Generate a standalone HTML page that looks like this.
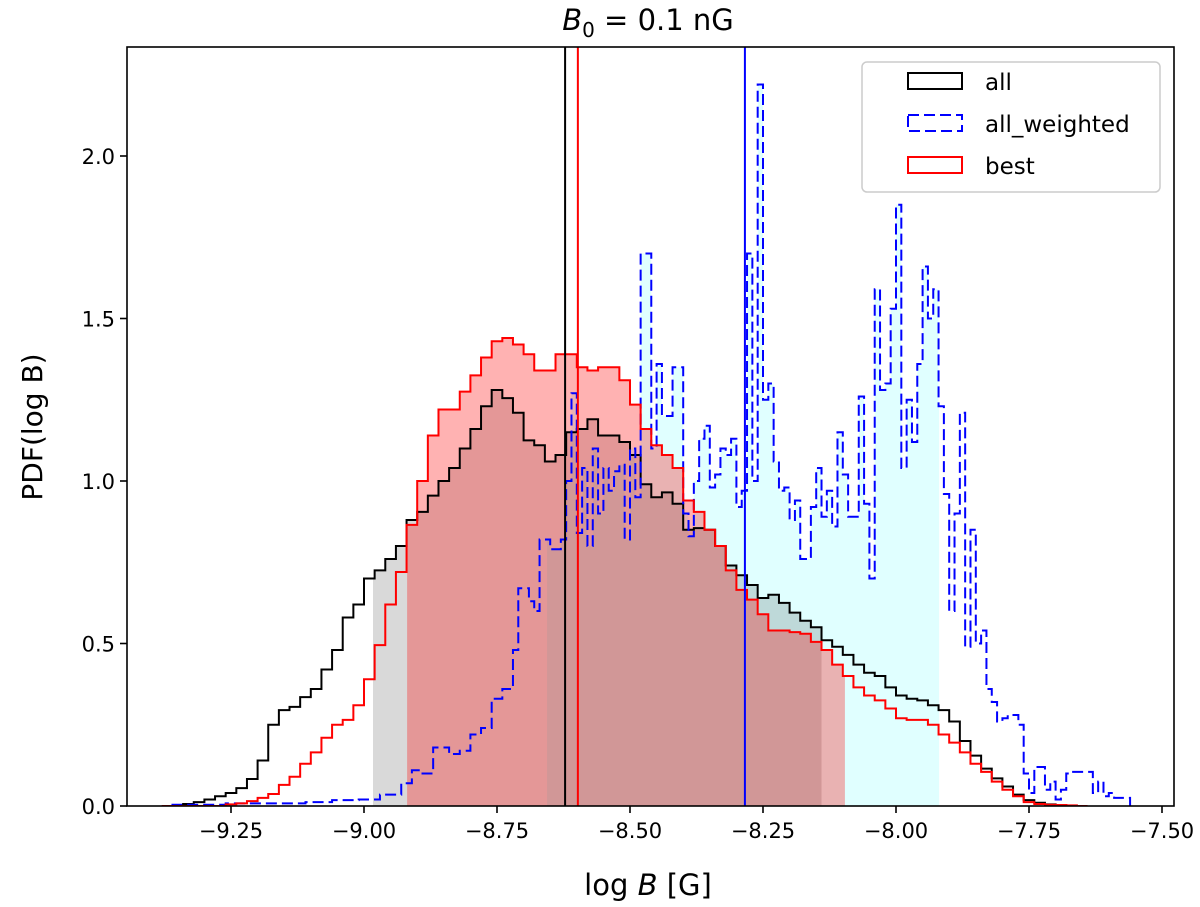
<!DOCTYPE html>
<html><head><meta charset="utf-8"><style>
body{margin:0;background:#fff;}
svg{display:block;font-family:"DejaVu Sans","Liberation Sans",sans-serif;}
</style></head><body>
<svg id="chart" width="1200" height="907" viewBox="0 0 1200 907">
<defs>
<clipPath id="plotclip"><rect x="127" y="47" width="1047" height="759"/></clipPath>
</defs>
<g id="fills" clip-path="url(#plotclip)"></g>
<g id="lines" clip-path="url(#plotclip)"></g>
<g id="axes"></g>
</svg>
<script>
const blackStart = -9.38, blackWidth = 0.02;
const allValues = [0,0.003,0.006,0.012,0.02,0.03,0.04,0.055,0.083,0.14,0.25,0.295,0.305,0.335,0.36,0.42,0.48,0.58,0.62,0.70,0.725,0.76,0.80,0.88,0.905,0.955,1.0,1.04,1.10,1.16,1.23,1.28,1.255,1.21,1.125,1.11,1.06,1.08,1.15,1.16,1.19,1.14,1.14,1.12,1.08,0.99,0.95,0.965,0.93,0.85,0.855,0.85,0.80,0.74,0.71,0.68,0.64,0.65,0.625,0.595,0.57,0.55,0.51,0.49,0.465,0.435,0.41,0.40,0.365,0.34,0.33,0.325,0.31,0.295,0.26,0.20,0.155,0.115,0.085,0.06,0.035,0.018,0.01,0.005,0.003,0,0];
const bestValues = [0,0,0,0,0,0,0.005,0.008,0.015,0.025,0.037,0.065,0.09,0.13,0.165,0.21,0.25,0.265,0.31,0.39,0.495,0.62,0.72,0.865,1.0,1.14,1.22,1.22,1.275,1.325,1.38,1.43,1.44,1.42,1.39,1.34,1.34,1.39,1.39,1.35,1.34,1.35,1.35,1.31,1.235,1.16,1.11,1.08,1.04,0.94,0.905,0.85,0.80,0.725,0.665,0.635,0.59,0.54,0.54,0.535,0.53,0.505,0.48,0.435,0.40,0.365,0.34,0.325,0.30,0.27,0.265,0.265,0.25,0.22,0.195,0.165,0.13,0.105,0.075,0.05,0.03,0.012,0.006,0.004,0.003,0.002,0];
const weightedStart = -9.36, weightedWidth = 0.01;
const weightedValues = [0.004,0.004,0.004,0.004,0.004,0.004,0.004,0.004,0.004,0.004,
0.008,0.008,0.008,0.008,0.008,0.008,0.008,0.008,0.008,0.008,0.008,0.008,0.008,0.008,0.008,
0.012,0.012,0.012,0.012,0.012,0.018,0.018,0.018,0.018,0.018,0.02,0.02,0.02,0.02,
0.035,0.035,0.035,0.035,0.07,0.07,0.11,0.11,0.10,0.10,0.18,0.18,0.18,0.16,0.16,0.17,0.17,0.22,0.22,0.24,0.24,
0.33,0.33,0.36,0.36,0.48,0.67,0.67,0.63,0.60,0.82,0.82,0.79,0.79,0.82,1.0,1.27,0.84,1.04,0.80,1.1,
0.9,1.04,0.97,1.03,1.05,0.82,1.1,0.95,1.70,1.70,1.1,1.36,1.2,1.2,1.35,1.35,0.9,0.83,1.0,1.13,
1.17,0.98,1.02,1.1,1.08,1.13,0.92,0.97,1.7,1.0,2.22,1.25,1.3,1.06,0.97,0.98,0.88,0.94,0.76,0.76,
0.92,1.04,0.89,0.97,0.86,1.15,1.02,0.89,0.89,1.26,0.93,0.70,1.59,1.28,1.3,1.53,1.85,1.04,1.25,1.12,
1.36,1.66,1.50,1.59,1.23,0.96,0.60,0.90,1.21,0.49,0.85,0.50,0.54,0.36,0.32,0.26,0.27,0.28,0.28,0.25,
0.10,0.04,0.12,0.12,0.05,0.075,0.02,0.05,0.10,0.105,0.105,0.105,0.105,0.04,0.075,0.03,0.04,0.025,0.025,0.025];
const medians = [-8.622, -8.598, -8.284]; // all, best, all_weighted
const allSpan = [-8.983, -8.140];
const bestSpan = [-8.919, -8.096];
const weightedSpan = [-8.656, -7.919];
const xTicks = [-9.25,-9.00,-8.75,-8.50,-8.25,-8.00,-7.75,-7.50];
const xTickLabels = ["−9.25","−9.00","−8.75","−8.50","−8.25","−8.00","−7.75","−7.50"];
const yTicks = [0,0.5,1.0,1.5,2.0];
const yTickLabels = ["0.0","0.5","1.0","1.5","2.0"];

const NS="http://www.w3.org/2000/svg";
const X0=127,X1=1174,Y0=47,Y1=806;
function xs(v){return 364+(v+9)*532;}
function ys(p){return 806-p*325;}
function mk(tag,attrs,parent){const e=document.createElementNS(NS,tag);for(const k in attrs)e.setAttribute(k,attrs[k]);parent.appendChild(e);return e;}
function stepPath(start,w,vals){
  let d="M"+xs(start).toFixed(2)+","+ys(0);
  for(let i=0;i<vals.length;i++){
    const xa=xs(start+i*w),xb=xs(start+(i+1)*w),y=ys(vals[i]);
    d+=" L"+xa.toFixed(2)+","+y.toFixed(2)+" L"+xb.toFixed(2)+","+y.toFixed(2);
  }
  d+=" L"+xs(start+vals.length*w).toFixed(2)+","+ys(0);
  return d;
}
const svg=document.getElementById('chart');
const defs=svg.querySelector('defs');
const fills=document.getElementById('fills');
const lines=document.getElementById('lines');
const axes=document.getElementById('axes');
function spanFill(id,start,w,vals,span,color,name){
  const cp=mk('clipPath',{id:id},defs);
  mk('rect',{x:xs(span[0]),y:Y0,width:xs(span[1])-xs(span[0]),height:Y1-Y0},cp);
  const p=mk('path',{d:stepPath(start,w,vals)+" Z",fill:color,'clip-path':'url(#'+id+')'},fills);
  
  
}
spanFill('c1',weightedStart,weightedWidth,weightedValues,weightedSpan,'rgba(0,255,255,0.12)','all-weighted-interval-fill');
spanFill('c2',blackStart,blackWidth,allValues,allSpan,'rgba(0,0,0,0.15)','all-interval-fill');
spanFill('c3',blackStart,blackWidth,bestValues,bestSpan,'rgba(255,0,0,0.3)','best-interval-fill');

let e;
e=mk('path',{d:stepPath(blackStart,blackWidth,allValues),fill:'none',stroke:'#000','stroke-width':2,'stroke-linejoin':'miter'},lines);


e=mk('path',{d:stepPath(weightedStart,weightedWidth,weightedValues),fill:'none',stroke:'#0000ff','stroke-width':2,'stroke-dasharray':'11,5'},lines);


e=mk('path',{d:stepPath(blackStart,blackWidth,bestValues),fill:'none',stroke:'#ff0000','stroke-width':2},lines);


const medColors=['#000','#ff0000','#0000ff'];
const medNames=['all-median-line','best-median-line','all-weighted-median-line'];
medians.forEach((m,i)=>{
  const l=mk('line',{x1:xs(m),x2:xs(m),y1:Y0,y2:Y1,stroke:medColors[i],'stroke-width':2},lines);
  
  
});

e=mk('rect',{x:X0,y:Y0,width:X1-X0,height:Y1-Y0,fill:'none',stroke:'#000','stroke-width':1.6},axes);


xTicks.forEach((v,i)=>{
  const x=xs(v);
  mk('line',{x1:x,x2:x,y1:Y1,y2:Y1+7,stroke:'#000','stroke-width':1.6},axes);
  const t=mk('text',{x:x,y:Y1+32,'text-anchor':'middle','font-size':21,fill:'#000'},axes);
  t.textContent=xTickLabels[i];
  
  
});
yTicks.forEach((v,i)=>{
  const y=ys(v);
  mk('line',{x1:X0-7,x2:X0,y1:y,y2:y,stroke:'#000','stroke-width':1.6},axes);
  const t=mk('text',{x:X0-12,y:y+8,'text-anchor':'end','font-size':21,fill:'#000'},axes);
  t.textContent=yTickLabels[i];
  
  
});
</script>
<svg width="1200" height="907" style="position:absolute;left:0;top:0">
<text x="648" y="30" text-anchor="middle" font-size="29" font-family="DejaVu Sans, sans-serif"><tspan font-style="italic">B</tspan><tspan font-size="20" dy="7">0</tspan><tspan dy="-7"> = 0.1 nG</tspan></text>
<text x="648" y="895" text-anchor="middle" font-size="29" font-family="DejaVu Sans, sans-serif">log <tspan font-style="italic">B</tspan> [G]</text>
<text x="0" y="0" transform="translate(42,427) rotate(-90)" text-anchor="middle" font-size="28" font-family="DejaVu Sans, sans-serif">PDF(log B)</text>
<g>
<rect x="862" y="62" width="298" height="130" rx="5" fill="#fff" fill-opacity="0.85" stroke="#cccccc" stroke-width="1.5"/>
<rect x="908" y="73" width="54" height="16" fill="none" stroke="#000" stroke-width="2"/>
<text x="985" y="90" font-size="23" font-family="DejaVu Sans, sans-serif">all</text>
<rect x="908" y="115" width="54" height="16" fill="none" stroke="#0000ff" stroke-width="2" stroke-dasharray="11,5"/>
<text x="985" y="132" font-size="23" font-family="DejaVu Sans, sans-serif">all_weighted</text>
<rect x="908" y="157" width="54" height="16" fill="none" stroke="#ff0000" stroke-width="2"/>
<text x="985" y="174" font-size="23" font-family="DejaVu Sans, sans-serif">best</text>
</g>
</svg>
</body></html>
